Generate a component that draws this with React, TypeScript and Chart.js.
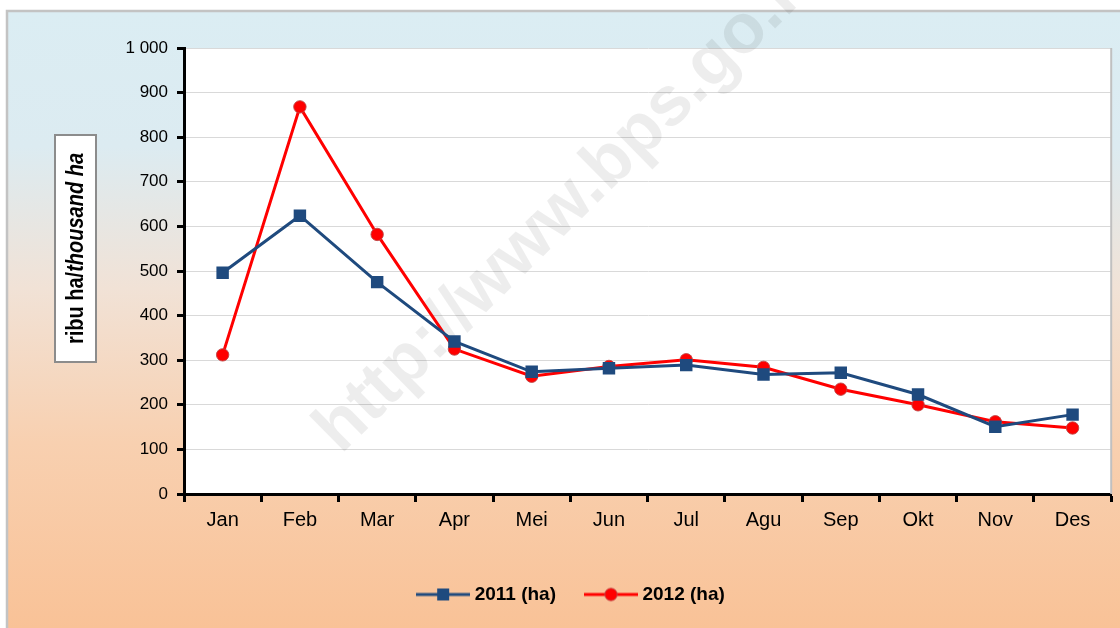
import React, { useEffect, useRef } from "react";
import { Chart, registerables } from "chart.js";

Chart.register(...registerables);

const months = ["Jan", "Feb", "Mar", "Apr", "Mei", "Jun", "Jul", "Agu", "Sep", "Okt", "Nov", "Des"];
const series2011 = [496, 624, 475, 342, 274, 282, 289, 268, 272, 223, 151, 178];
const series2012 = [312, 868, 582, 325, 264, 286, 301, 284, 235, 200, 162, 148];
const label2011 = "2011 (ha)";
const label2012 = "2012 (ha)";
const yMin = 0;
const yMax = 1000;
const yStep = 100;
const yTitleNormal = "ribu ha/";
const yTitleItalic = "thousand ha";
const watermarkText = "http://www.bps.go.id";

const BLUE = "#1F4A7E";
const RED = "#FF0000";
const FONT = "'Liberation Sans', Arial, sans-serif";

function fmt(v: number): string {
  return String(v).replace(/\B(?=(\d{3})+(?!\d))/g, " ");
}

function makeIcon(kind: "square" | "circle"): HTMLCanvasElement {
  const c = document.createElement("canvas");
  c.width = 54;
  c.height = 16;
  const g = c.getContext("2d")!;
  g.lineWidth = 3;
  g.strokeStyle = kind === "square" ? BLUE : RED;
  g.beginPath();
  g.moveTo(0, 8);
  g.lineTo(54, 8);
  g.stroke();
  if (kind === "square") {
    g.fillStyle = BLUE;
    g.fillRect(27 - 6, 8 - 6, 12, 12);
  } else {
    g.fillStyle = RED;
    g.strokeStyle = "rgba(190,70,70,0.9)";
    g.lineWidth = 1;
    g.beginPath();
    g.arc(27, 8, 6.2, 0, Math.PI * 2);
    g.fill();
    g.stroke();
  }
  return c;
}

const framePlugin = {
  id: "framePlugin",
  beforeDraw(chart: any) {
    const ctx = chart.ctx as CanvasRenderingContext2D;
    const W = chart.width;
    const H = chart.height;
    ctx.save();
    ctx.fillStyle = "#ffffff";
    ctx.fillRect(0, 0, W, H);
    const x0 = 7, y0 = 11;
    const grad = ctx.createLinearGradient(0, y0, 0, H);
    grad.addColorStop(0, "#DBEDF3");
    grad.addColorStop(0.22, "#DCEBF1");
    grad.addColorStop(0.45, "#F1E2D6");
    grad.addColorStop(0.7, "#F8D0B0");
    grad.addColorStop(1, "#F9C297");
    ctx.fillStyle = grad;
    ctx.fillRect(x0, y0, W + 10 - x0, H + 10 - y0);
    ctx.strokeStyle = "#C3C3C3";
    ctx.lineWidth = 2.5;
    ctx.strokeRect(x0, y0, W + 20, H + 20);
    const a = chart.chartArea;
    ctx.fillStyle = "#ffffff";
    ctx.fillRect(a.left, a.top, a.right - a.left, a.bottom - a.top);
    ctx.restore();
  },
  afterLayout(chart: any) {
    if (chart.legend) {
      chart.legend.left += 16;
      chart.legend.right += 16;
    }
  },
  beforeDatasetsDraw(chart: any) {
    const ctx = chart.ctx as CanvasRenderingContext2D;
    const a = chart.chartArea;
    ctx.save();
    ctx.strokeStyle = "#C0C0C0";
    ctx.lineWidth = 2;
    ctx.beginPath();
    ctx.moveTo(a.right, a.top);
    ctx.lineTo(a.right, a.bottom);
    ctx.stroke();
    ctx.translate(341, 455);
    ctx.rotate(-44.5 * Math.PI / 180);
    ctx.font = `bold 70px ${FONT}`;
    ctx.fillStyle = "rgba(0,0,0,0.07)";
    ctx.textBaseline = "alphabetic";
    ctx.textAlign = "left";
    ctx.fillText(watermarkText, 0, 0);
    ctx.restore();

    ctx.save();
    const bx = 55, by = 135, bw = 41, bh = 227;
    ctx.fillStyle = "#ffffff";
    ctx.fillRect(bx, by, bw, bh);
    ctx.strokeStyle = "#8C8C8C";
    ctx.lineWidth = 2;
    ctx.strokeRect(bx, by, bw, bh);
    ctx.translate(bx + bw / 2 + 1, by + bh / 2);
    ctx.rotate(-Math.PI / 2);
    ctx.scale(1, 1.18);
    const fN = `bold 20px ${FONT}`;
    const fI = `italic bold 20px ${FONT}`;
    ctx.font = fN;
    const w1 = ctx.measureText(yTitleNormal).width;
    ctx.font = fI;
    const w2 = ctx.measureText(yTitleItalic).width;
    const start = -(w1 + w2) / 2;
    ctx.fillStyle = "#000";
    ctx.textBaseline = "middle";
    ctx.textAlign = "left";
    ctx.font = fN;
    ctx.fillText(yTitleNormal, start, 0);
    ctx.font = fI;
    ctx.fillText(yTitleItalic, start + w1, 0);
    ctx.restore();
  },
};

export default function App() {
  const ref = useRef<HTMLCanvasElement | null>(null);
  useEffect(() => {
    if (!ref.current) return;
    const icons = [makeIcon("square"), makeIcon("circle")];
    const chart = new Chart(ref.current, {
      type: "line",
      data: {
        labels: months,
        datasets: [
          {
            label: label2011,
            data: series2011,
            borderColor: BLUE,
            backgroundColor: BLUE,
            borderWidth: 3,
            pointStyle: "rect",
            pointRadius: 8.8,
            pointBackgroundColor: BLUE,
            pointBorderColor: BLUE,
            pointBorderWidth: 0,
            tension: 0,
          },
          {
            label: label2012,
            data: series2012,
            borderColor: RED,
            backgroundColor: RED,
            borderWidth: 3,
            pointStyle: "circle",
            pointRadius: 6.2,
            pointBackgroundColor: RED,
            pointBorderColor: "rgba(190,70,70,0.9)",
            pointBorderWidth: 1,
            tension: 0,
          },
        ],
      },
      options: {
        responsive: false,
        animation: false,
        events: [],
        layout: { padding: { left: 0, top: 48, right: 6, bottom: 14 } },
        plugins: {
          tooltip: { enabled: false },
          legend: {
            position: "bottom",
            labels: {
              color: "#000",
              font: { family: FONT, size: 19, weight: "bold" },
              usePointStyle: true,
              pointStyleWidth: 44,
              boxHeight: 14,
              padding: 33,
              generateLabels: (ch: any) =>
                ch.data.datasets.map((ds: any, i: number) => ({
                  text: ds.label,
                  fillStyle: ds.borderColor,
                  strokeStyle: ds.borderColor,
                  lineWidth: 0,
                  pointStyle: icons[i],
                  hidden: false,
                  datasetIndex: i,
                  fontColor: "#000",
                })),
            },
          },
        },
        scales: {
          x: {
            offset: true,
            grid: {
              offset: true,
              drawOnChartArea: false,
              drawTicks: true,
              tickLength: 8,
              tickColor: "#000",
              tickWidth: 3,
            },
            border: { color: "#000", width: 3 },
            ticks: {
              color: "#000",
              font: { family: FONT, size: 20 },
              padding: 6,
              maxRotation: 0,
            },
            afterFit: (s: any) => {
              s.height = 58;
            },
          },
          y: {
            min: yMin,
            max: yMax,
            grid: {
              color: "#D9D9D9",
              lineWidth: 1,
              tickColor: "#000",
              tickWidth: 3,
              tickLength: 7,
            },
            border: { color: "#000", width: 3 },
            ticks: {
              stepSize: yStep,
              color: "#000",
              font: { family: FONT, size: 17 },
              padding: 9,
              callback: (v: any) => fmt(Number(v)),
            },
            afterFit: (s: any) => {
              s.width = 184;
            },
          },
        },
      },
      plugins: [framePlugin],
    });
    return () => chart.destroy();
  }, []);
  return (
    <div style={{ position: "absolute", left: 0, top: 0, width: 1120, height: 628 }}>
      <canvas ref={ref} width={1120} height={628} style={{ display: "block" }} />
    </div>
  );
}
